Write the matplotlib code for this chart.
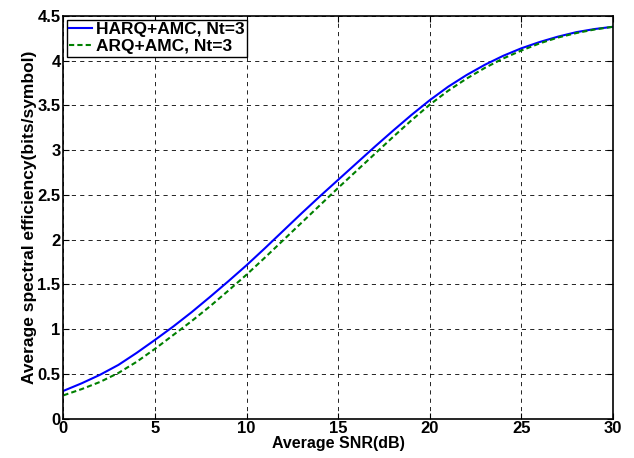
import matplotlib
matplotlib.use("Agg")
import matplotlib.pyplot as plt
import numpy as np

plt.rcParams["font.family"] = ["Liberation Sans", "DejaVu Sans"]
plt.rcParams["font.weight"] = "bold"

# data (1 dB steps)
snr = np.arange(0, 31)
harq = [0.31, 0.395, 0.49, 0.60, 0.735, 0.88, 1.03, 1.19, 1.36, 1.535,
        1.715, 1.905, 2.10, 2.295, 2.485, 2.67, 2.855, 3.04, 3.22, 3.395,
        3.56, 3.71, 3.84, 3.955, 4.055, 4.14, 4.21, 4.27, 4.32, 4.355, 4.38]
arq = [0.26, 0.33, 0.41, 0.51, 0.635, 0.78, 0.935, 1.09, 1.255, 1.43,
       1.61, 1.80, 1.995, 2.19, 2.385, 2.58, 2.77, 2.96, 3.15, 3.335,
       3.51, 3.665, 3.80, 3.92, 4.025, 4.115, 4.195, 4.26, 4.31, 4.35, 4.38]
labels = ["HARQ+AMC, Nt=3", "ARQ+AMC, Nt=3"]

fig = plt.figure(figsize=(6.34, 4.58), dpi=100)
ax = fig.add_axes([0.1, 0.086, 0.867, 0.879])

ax.plot(snr, harq, color=(0, 0, 1), lw=1.5, label=labels[0])
ax.plot(snr, arq, color=(0, 0.5, 0), lw=1.5, linestyle=(0, (2.5, 1.5)), label=labels[1])

ax.set_xlim(0, 30)
ax.set_ylim(0, 4.5)
ax.set_xticks(np.arange(0, 31, 5))
ax.set_yticks(np.arange(0, 4.6, 0.5))
ax.set_yticklabels(["0", "0.5", "1", "1.5", "2", "2.5", "3", "3.5", "4", "4.5"])
ax.tick_params(direction="in", top=True, right=True, labelsize=12, length=4, width=0.8, pad=2)
ax.tick_params(axis="x", pad=1.5)
for t in ax.get_xticklabels() + ax.get_yticklabels():
    t.set_fontweight("bold")
for s in ax.spines.values():
    s.set_linewidth(1.2)
ax.grid(True, color="k", linestyle=(0, (5, 5)), lw=0.6)

ax.set_xlabel("Average SNR(dB)", fontsize=11.5, fontweight="bold", labelpad=0.5)
ax.set_ylabel("Average spectral efficiency(bits/symbol)", fontsize=12.5, fontweight="bold", labelpad=0)

leg = ax.legend(loc="upper left", fontsize=12.5, handlelength=1.3, handletextpad=0.2,
                borderpad=0.15, labelspacing=0.1, borderaxespad=0.2, fancybox=False,
                framealpha=1, edgecolor="k")
leg.get_frame().set_linewidth(1.0)

fig.savefig("out.png", dpi=100)
